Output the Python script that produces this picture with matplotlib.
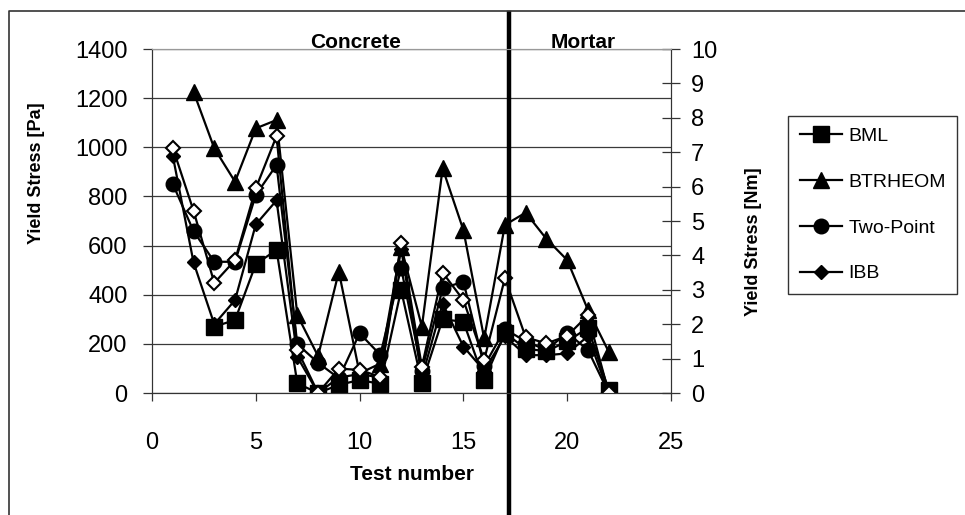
import numpy as np
import matplotlib
matplotlib.use("Agg")
import matplotlib.pyplot as plt
from matplotlib.lines import Line2D
import matplotlib.transforms as mtransforms

plt.rcParams['font.family'] = ['Liberation Sans', 'DejaVu Sans']

nan = np.nan
test = np.arange(1, 23)

# yield stress in Pa (left axis)
bml = [nan, nan, 270, 297, 525, 582, 39, 0, 33, 53, 37, 419, 40, 300, 290, 53, 245, 180, 170, 210, 265, 12]
btrheom = [nan, 1226, 996, 860, 1077, 1111, 317, 150, 494, 80, 120, 595, 270, 914, 663, 222, 684, 734, 627, 541, 338, 168]
twopoint = [851, 659, 534, 534, 806, 928, 199, 123, 60, 243, 155, 509, 90, 426, 453, 110, 260, 210, 175, 245, 175, 0]
# yield stress in Nm (right axis)
ibb = [6.9, 3.8, 2.0, 2.7, 4.9, 5.6, 1.05, 0, 0.45, 0.55, 0.45, 4.2, 0.45, 2.6, 1.35, 0.65, 1.65, 1.1, 1.1, 1.15, 1.65, 0]
ibb2 = [7.13, 5.3, 3.2, 3.86, 5.95, 7.47, 1.25, 0, 0.71, 0.67, 0.47, 4.37, 0.76, 3.5, 2.7, 0.96, 3.34, 1.62, 1.44, 1.66, 2.26, 0]

split = 17.2

fig = plt.figure(figsize=(9.65, 5.15), dpi=100)
ax = fig.add_axes([152/965, 1-393/515, (671-152)/965, (393-49)/515])
ax2 = ax.twinx()

lw = 1.6
h1, = ax.plot(test, bml, color='black', lw=lw, marker='s', ms=11, label='BML')
h2, = ax.plot(test, btrheom, color='black', lw=lw, marker='^', ms=12, label='BTRHEOM')
h3, = ax.plot(test, twopoint, color='black', lw=lw, marker='o', ms=10.5, label='Two-Point')
h4, = ax2.plot(test, ibb, color='black', lw=lw, marker='D', ms=7.2, label='IBB')
ax2.plot(test, ibb2, color='black', lw=lw, marker='D', ms=7.2, mfc='white', mec='black', mew=1.5)

ax.set_xlim(0, 25)
ax.set_ylim(0, 1400)
ax2.set_ylim(0, 10)
ax.set_xticks(np.arange(0, 26, 5))
ax.set_yticks(np.arange(0, 1401, 200))
ax2.set_yticks(np.arange(0, 11, 1))

ax.grid(axis='y', color='#3a3a3a', lw=0.9)
ax.set_axisbelow(True)

for a in (ax, ax2):
    a.spines['top'].set_color('#999999')
    a.spines['left'].set_color('#333333')
    a.spines['right'].set_color('#333333')
    a.spines['bottom'].set_color('#333333')

ax.tick_params(axis='y', direction='out', length=6.5, width=0.9, color='#333333', labelsize=17, pad=11)
ax.tick_params(axis='x', direction='out', length=6, width=0.9, color='#333333', labelsize=17, pad=22)
ax2.tick_params(axis='y', direction='inout', length=13, width=0.9, color='#333333', labelsize=17, pad=8)

ax.set_ylabel('Yield Stress [Pa]', fontsize=13, fontweight='bold')
ax.yaxis.set_label_coords((45-152)/519, 0.64)
ax2.set_ylabel('Yield Stress [Nm]', fontsize=13, fontweight='bold')
ax2.yaxis.set_label_coords((745-152)/519, 0.44)
ax.set_xlabel('Test number', fontsize=15, fontweight='bold', labelpad=8)

# separator between concrete and mortar tests
trans = mtransforms.blended_transform_factory(ax.transData, ax.transAxes)
ax2.plot([split, split], [-0.36, 1.105], color='black', lw=3.2, transform=trans, clip_on=False)

pix = mtransforms.Affine2D().scale(1, -1).translate(0, 515)
ax.text(356, 48, 'Concrete', fontsize=15, fontweight='bold', ha='center', va='baseline', transform=pix)
ax.text(583, 48, 'Mortar', fontsize=15, fontweight='bold', ha='center', va='baseline', transform=pix)

leg = fig.legend(handles=[h1, h2, h3, h4], loc='lower left', bbox_to_anchor=(788/965, 1-294/515),
                 fontsize=14, frameon=True, fancybox=False, edgecolor='black', handlelength=2.2,
                 handletextpad=0.3, labelspacing=1.45, borderpad=0.6, borderaxespad=0)
leg.get_frame().set_linewidth(1.0)

# chart area border (left and top edges visible)
fig.add_artist(Line2D([9/965, 9/965, 1.0], [0.0, 1-11/515, 1-11/515], transform=fig.transFigure,
                      color='#333333', lw=1.2))

fig.savefig('out.png', dpi=100)
